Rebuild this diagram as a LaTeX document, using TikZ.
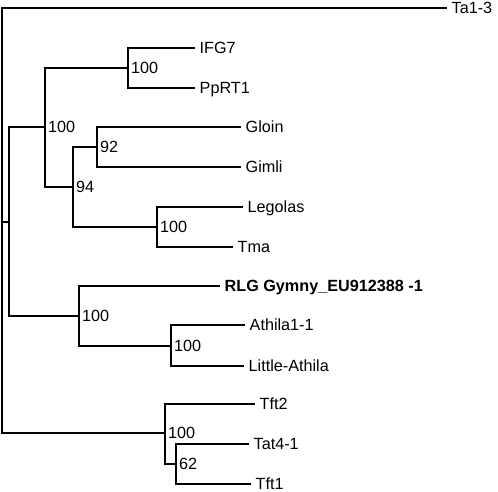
\documentclass[tikz,border=0pt]{standalone}
\usepackage{fontspec}
\setmainfont{Liberation Sans}
\begin{document}
\begin{tikzpicture}[
  x=1pt, y=-1pt,
  font=\fontsize{16.2}{19}\selectfont,
  branch/.style={draw, line width=1.6pt},
  leaf/.style={anchor=base west, inner sep=0pt, xshift=4.5pt, yshift=-5.8pt},
  boot/.style={anchor=base west, inner sep=0pt, xshift=3pt, yshift=-5.8pt}
]
\useasboundingbox (0,0) rectangle (498,492);

% INTERNAL NODES
\coordinate (root) at (2,222);
\coordinate (nA) at (9,222);
\coordinate (nB) at (45,127);
\coordinate (nIFG) at (128,68);
\coordinate (nD) at (73,187);
\coordinate (nE) at (97,147);
\coordinate (nF) at (157,227);
\coordinate (nRLG) at (79,316);
\coordinate (nAth) at (171,346);
\coordinate (nTft) at (165,433);
\coordinate (nTat) at (176,464);

% LEAF TIPS
\coordinate (tTa) at (447,8);
\coordinate (tIFG) at (195,48);
\coordinate (tPpRT) at (195,88);
\coordinate (tGloin) at (241,127);
\coordinate (tGimli) at (241,167);
\coordinate (tLeg) at (243,207);
\coordinate (tTma) at (233,247);
\coordinate (tRLG) at (220,286);
\coordinate (tAth) at (245,325);
\coordinate (tLit) at (244,366);
\coordinate (tTft2) at (255,404);
\coordinate (tTat) at (249,444);
\coordinate (tTft1) at (251,484);

% BRANCHES
\path[branch] (tTa) -| (root) |- (nTft);
\path[branch] (root) -- (nA);
\path[branch] (nB) -| (nA) |- (nRLG);
\path[branch] (nIFG) -| (nB) |- (nD);
\path[branch] (tIFG) -| (nIFG) |- (tPpRT);
\path[branch] (nE) -| (nD) |- (nF);
\path[branch] (tGloin) -| (nE) |- (tGimli);
\path[branch] (tLeg) -| (nF) |- (tTma);
\path[branch] (tRLG) -| (nRLG) |- (nAth);
\path[branch] (tAth) -| (nAth) |- (tLit);
\path[branch] (tTft2) -| (nTft) |- (nTat);
\path[branch] (tTat) -| (nTat) |- (tTft1);

% LEAF LABELS
\node[leaf] (Ta13) at (tTa) {Ta1-3};
\node[leaf] (IFG7) at (tIFG) {IFG7};
\node[leaf] (PpRT1) at (tPpRT) {PpRT1};
\node[leaf] (Gloin) at (tGloin) {Gloin};
\node[leaf] (Gimli) at (tGimli) {Gimli};
\node[leaf] (Legolas) at (tLeg) {Legolas};
\node[leaf] (Tma) at (tTma) {Tma};
\node[leaf] (RLG) at (tRLG) {\textbf{RLG Gymny\_EU912388 -1}};
\node[leaf] (Athila) at (tAth) {Athila1-1};
\node[leaf] (Little) at (tLit) {Little-Athila};
\node[leaf] (Tft2) at (tTft2) {Tft2};
\node[leaf] (Tat41) at (tTat) {Tat4-1};
\node[leaf] (Tft1) at (tTft1) {Tft1};

% BOOTSTRAP VALUES
\node[boot] (bB) at (nB) {100};
\node[boot] (bIFG) at (nIFG) {100};
\node[boot] (bD) at (nD) {94};
\node[boot] (bE) at (nE) {92};
\node[boot] (bF) at (nF) {100};
\node[boot] (bRLG) at (nRLG) {100};
\node[boot] (bAth) at (nAth) {100};
\node[boot] (bTft) at (nTft) {100};
\node[boot] (bTat) at (nTat) {62};

\end{tikzpicture}
\end{document}
